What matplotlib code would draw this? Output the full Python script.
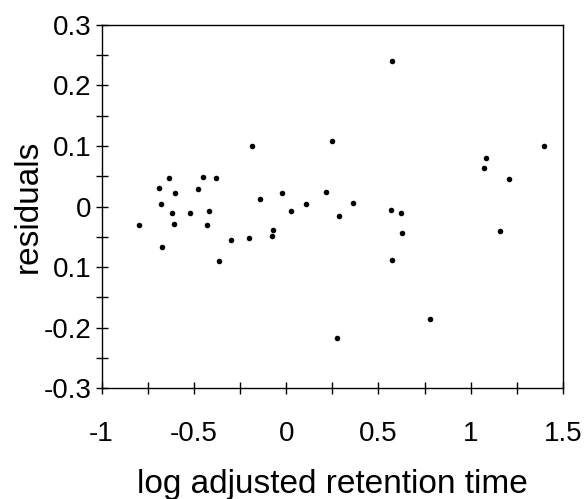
#!/usr/bin/env python
# coding: utf-8

"""Residuals vs log adjusted retention time"""

import matplotlib.pyplot as pl
from matplotlib.ticker import FixedLocator, MultipleLocator

pl.switch_backend("agg")
pl.rcParams["font.family"] = ["Liberation Sans", "DejaVu Sans"]

# points
log_rt = [
    -0.799, -0.687, -0.676, -0.671, -0.634, -0.617, -0.600, -0.609,
    -0.522, -0.477, -0.452, -0.419, -0.427, -0.381, -0.362, -0.300,
    -0.201, -0.183, -0.141, -0.078, -0.069, -0.025, 0.026, 0.110,
    0.215, 0.251, 0.277, 0.286, 0.362, 0.573, 0.566, 0.576,
    0.622, 0.629, 0.781, 1.072, 1.083, 1.157, 1.208, 1.399,
]
resid = [
    -0.031, 0.031, 0.004, -0.066, 0.047, -0.010, 0.022, -0.029,
    -0.011, 0.029, 0.049, -0.007, -0.031, 0.047, -0.090, -0.055,
    -0.052, 0.100, 0.013, -0.048, -0.039, 0.022, -0.008, 0.004,
    0.024, 0.109, -0.217, -0.016, 0.006, 0.240, -0.006, -0.089,
    -0.010, -0.043, -0.186, 0.064, 0.081, -0.040, 0.045, 0.100,
]

x_ticks = [-1, -0.5, 0, 0.5, 1, 1.5]
x_ticklabels = ["-1", "-0.5", "0", "0.5", "1", "1.5"]
y_ticks = [-0.3, -0.2, -0.1, 0, 0.1, 0.2, 0.3]
# the original figure drops the minus sign on -0.1
y_ticklabels = ["-0.3", "-0.2", "0.1", "0", "0.1", "0.2", "0.3"]

fig = pl.figure(figsize=(5.84, 4.99), dpi=100)
ax = fig.add_axes([0.174, 0.222, 0.790, 0.728])

ax.scatter(log_rt, resid, s=16, color="k", linewidths=0)

ax.set_xlim(-1, 1.5)
ax.set_ylim(-0.3, 0.3)
ax.xaxis.set_major_locator(FixedLocator(x_ticks))
ax.set_xticklabels(x_ticklabels)
ax.yaxis.set_major_locator(FixedLocator(y_ticks))
ax.set_yticklabels(y_ticklabels)
ax.xaxis.set_minor_locator(MultipleLocator(0.25))
ax.yaxis.set_minor_locator(MultipleLocator(0.05))

ax.tick_params(which="major", direction="inout", length=9, width=1,
               labelsize=20, pad=3)
ax.tick_params(which="minor", direction="inout", length=8, width=1)
ax.tick_params(axis="x", pad=19)
for sp in ax.spines.values():
    sp.set_linewidth(1)

ax.set_xlabel("log adjusted retention time", fontsize=24, labelpad=16)
ax.set_ylabel("residuals", fontsize=24, labelpad=0)

fig.savefig("out.png", dpi=100)
pl.close()
